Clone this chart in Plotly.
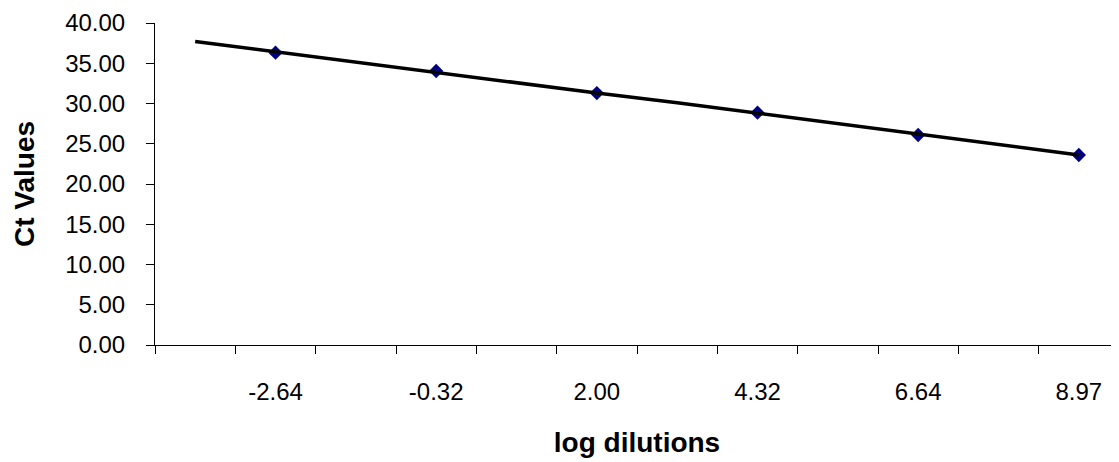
import plotly.graph_objects as go

# Category axis: log dilution values (12 categories, every other one labelled)
categories = ["-3.80", "-2.64", "-1.48", "-0.32", "0.84", "2.00",
              "3.16", "4.32", "5.48", "6.64", "7.81", "8.97"]
tick_labels = ["", "-2.64", "", "-0.32", "", "2.00",
               "", "4.32", "", "6.64", "", "8.97"]

# Measured Ct values (markers only at labelled dilutions)
ct_values = [None, 36.31, None, 34.04, None, 31.30,
             None, 28.86, None, 26.09, None, 23.60]

# Line series (trend line)
trend_values = [37.7, 36.4, 35.2, 33.9, 32.6, 31.3,
                30.1, 28.8, 27.5, 26.2, 24.9, 23.6]

FONT = "Liberation Sans, Arial, sans-serif"

fig = go.Figure()
fig.add_trace(go.Scatter(
    x=categories, y=ct_values, mode="markers",
    marker=dict(symbol="diamond", size=11, color="#000080",
                line=dict(width=0)),
    showlegend=False))
fig.add_trace(go.Scatter(
    x=categories, y=trend_values, mode="lines",
    line=dict(color="black", width=3.5), showlegend=False, hoverinfo="skip"))

# The page body has an 8px default margin; size the figure to fill the rest.
fig.update_layout(
    width=1111, height=454,
    margin=dict(l=147, r=0, t=15, b=117),
    paper_bgcolor="white", plot_bgcolor="white",
    font=dict(family=FONT, color="black", size=24),
    xaxis=dict(
        type="category", categoryorder="array", categoryarray=categories,
        range=[-0.5, 11.5],
        tickmode="array", tickvals=categories, ticktext=tick_labels,
        tickson="boundaries", ticks="outside", ticklen=8, tickwidth=1,
        tickcolor="black", showline=True, linecolor="black", linewidth=1,
        showgrid=False, zeroline=False, ticklabelstandoff=25,
        tickfont=dict(size=24),
        title=dict(text="<b>log dilutions</b>", font=dict(size=28),
                   standoff=28),
    ),
    yaxis=dict(
        range=[0, 40], dtick=5, tick0=0, tickformat=".2f",
        ticks="outside", ticklen=8, tickwidth=1, tickcolor="black",
        showline=True, linecolor="black", linewidth=1,
        showgrid=False, zeroline=False, ticklabelstandoff=16,
        tickfont=dict(size=24),
        title=dict(text="<b>Ct Values</b>", font=dict(size=28),
                   standoff=22),
    ),
)

fig.write_html("out.html")
